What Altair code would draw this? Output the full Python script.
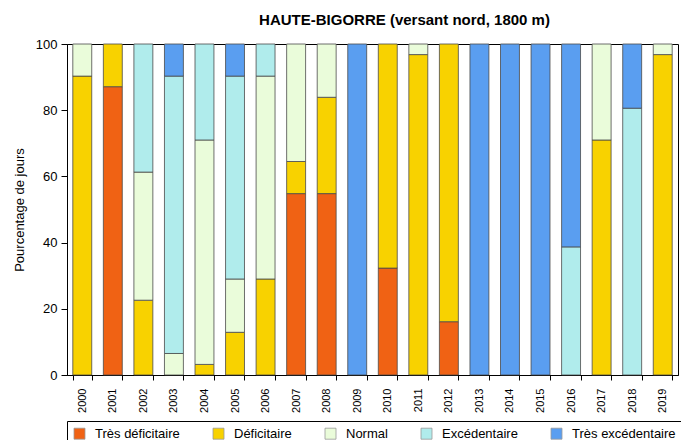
import altair as alt
import pandas as pd

years = [str(y) for y in range(2000, 2020)]
categories = ["Très déficitaire", "Déficitaire", "Normal", "Excédentaire", "Très excédentaire"]
colors = ["#F06214", "#F8D200", "#EAFCDA", "#B0ECEC", "#5A9EF0"]

tres_deficitaire = [0, 87.1, 0, 0, 0, 0, 0, 54.8, 54.8, 0, 32.3, 0, 16.1, 0, 0, 0, 0, 0, 0, 0]
deficitaire = [90.3, 12.9, 22.6, 0, 3.2, 12.9, 29.0, 9.7, 29.1, 0, 67.7, 96.8, 83.9, 0, 0, 0, 0, 71.0, 0, 96.8]
normal = [9.7, 0, 38.7, 6.5, 67.8, 16.1, 61.3, 35.5, 16.1, 0, 0, 3.2, 0, 0, 0, 0, 0, 29.0, 0, 3.2]
excedentaire = [0, 0, 38.7, 83.8, 29.0, 61.3, 9.7, 0, 0, 0, 0, 0, 0, 0, 0, 0, 38.7, 0, 80.6, 0]
tres_excedentaire = [0, 0, 0, 9.7, 0, 9.7, 0, 0, 0, 100, 0, 0, 0, 100, 100, 100, 61.3, 0, 19.4, 0]

series = [tres_deficitaire, deficitaire, normal, excedentaire, tres_excedentaire]
rows = []
for ci, (cat, vals) in enumerate(zip(categories, series)):
    for y, v in zip(years, vals):
        if v > 0:
            rows.append({"annee": y, "classe": cat, "idx": ci, "pct": v})
df = pd.DataFrame(rows)

chart = alt.Chart(df).mark_bar(stroke="#4a4a4a", strokeWidth=0.8).encode(
    x=alt.X("annee:N", sort=years,
            scale=alt.Scale(paddingInner=0.38, paddingOuter=0.19),
            axis=alt.Axis(title=None, labelAngle=270, labelFontSize=11, labelFont="Liberation Sans",
                          labelColor="black", tickBand="extent", tickSize=5, tickColor="black",
                          domainColor="black", labelPadding=8)),
    y=alt.Y("pct:Q", stack="zero",
            scale=alt.Scale(domain=[0, 100], nice=False),
            axis=alt.Axis(title="Pourcentage de jours", values=[0, 20, 40, 60, 80, 100], grid=False,
                          labelFontSize=13, labelFont="Liberation Sans", labelColor="black",
                          titleFontSize=13, titleFont="Liberation Sans", titleFontWeight="normal",
                          titleColor="black", titlePadding=9, tickSize=6, tickColor="black",
                          domainColor="black", labelPadding=4)),
    color=alt.Color("classe:N", sort=categories,
                    scale=alt.Scale(domain=categories, range=colors),
                    legend=alt.Legend(title=None, orient="none", legendX=0, legendY=377,
                                      direction="horizontal", columns=5, strokeColor="black",
                                      padding=6, symbolType="square", symbolSize=121,
                                      symbolStrokeColor="#999999", symbolStrokeWidth=0.8,
                                      symbolOpacity=1,
                                      labelFontSize=13, labelFont="Liberation Sans", labelColor="black",
                                      labelOffset=9, columnPadding=31)),
    order=alt.Order("idx:Q", sort="ascending"),
).properties(
    width=611, height=331,
    autosize=alt.AutoSizeParams(type="none"),
    padding={"left": 59, "top": 36, "right": 3, "bottom": 65},
    title=alt.Title("HAUTE-BIGORRE  (versant nord, 1800 m)", font="Liberation Sans", fontSize=15,
                    fontWeight="bold", color="black", dx=32, offset=10, anchor="middle"),
).configure_view(stroke="black", strokeWidth=1)

chart.save("out.html", embed_options={"renderer": "svg", "actions": False})
